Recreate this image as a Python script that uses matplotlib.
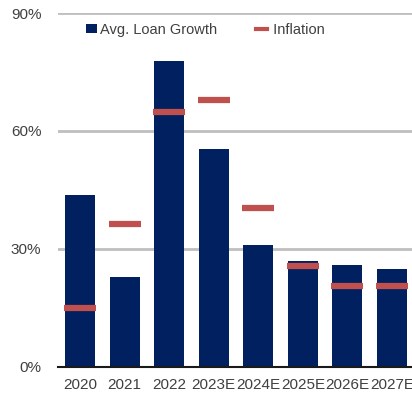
import matplotlib
matplotlib.use("Agg")
import matplotlib.pyplot as plt
from matplotlib.patches import Patch
from matplotlib.lines import Line2D
import numpy as np

plt.rcParams['font.family'] = ['Liberation Sans', 'DejaVu Sans']

years = ["2020", "2021", "2022", "2023E", "2024E", "2025E", "2026E", "2027E"]
loan_growth = [43.7, 22.9, 77.8, 55.4, 31.0, 27.0, 26.0, 25.0]
inflation = [15.0, 36.4, 64.8, 67.9, 40.4, 25.7, 20.6, 20.6]
yticks = [0, 30, 60, 90]

navy = "#002060"
red = "#C0504D"
text_col = "#404040"

fig = plt.figure(figsize=(4.12, 3.98), dpi=100)
ax = fig.add_axes([58 / 412, 31 / 398, 354 / 412, 354 / 398])

x = np.arange(len(years))
ax.bar(x, loan_growth, width=0.67, color=navy, zorder=2)
ax.hlines(inflation, x - 0.36, x + 0.36, colors=red, linewidth=4.5, zorder=3)

ax.set_xlim(-0.494, 7.45)
ax.set_ylim(0, 90)
ax.set_yticks(yticks)
ax.set_yticklabels([f"{v}%" for v in yticks])
ax.set_xticks(x)
ax.set_xticklabels(years)

ax.grid(axis='y', color="#BFBFBF", linewidth=2, zorder=0)
ax.set_axisbelow(True)
for s in ["top", "right", "left"]:
    ax.spines[s].set_visible(False)
ax.spines["bottom"].set_color("#1a1a1a")
ax.spines["bottom"].set_linewidth(1.5)
ax.spines["bottom"].set_zorder(4)

ax.tick_params(axis='both', length=0, labelsize=11, colors=text_col)
ax.tick_params(axis='y', pad=12)
ax.tick_params(axis='x', pad=8)

handles = [
    Patch(facecolor=navy, edgecolor='none'),
    Line2D([0], [0], color=red, linewidth=3),
]
leg = fig.legend(handles, ["Avg. Loan Growth", " Inflation"], ncol=2, frameon=False,
                 loc='center left', bbox_to_anchor=(86 / 412, 1 - 30 / 398),
                 borderpad=0, borderaxespad=0,
                 fontsize=10.5, handlelength=0.75, handleheight=0.6, handletextpad=0.2,
                 columnspacing=2.65, labelcolor=text_col)

fig.savefig("out.png", dpi=100)
